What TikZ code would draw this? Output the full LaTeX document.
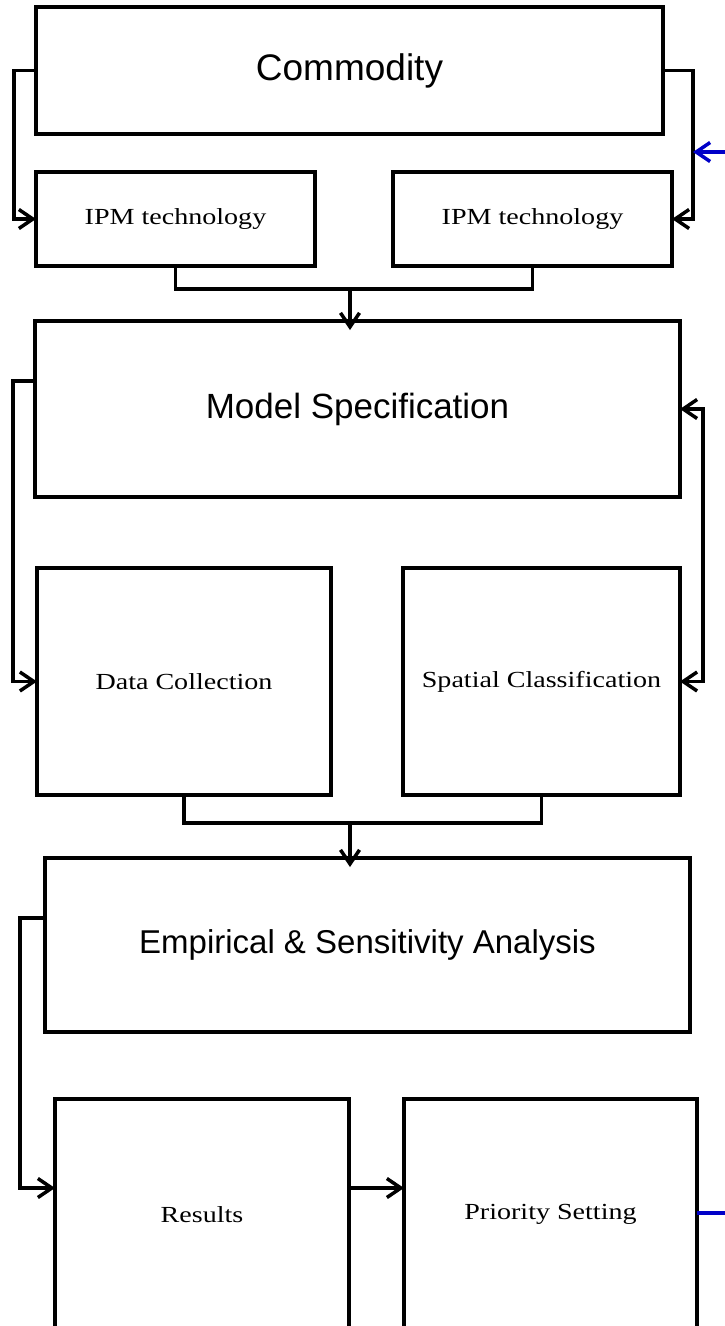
\documentclass[tikz,border=0pt]{standalone}
\usepackage{fontspec}
\setmainfont{Liberation Serif}
\setsansfont{Liberation Sans}
\newfontfamily\widerm{Liberation Serif}[FakeStretch=1.22]
\usetikzlibrary{arrows.meta}
\definecolor{linkblue}{RGB}{0,0,200}
\tikzset{
  box/.style={draw, line width=4pt, rectangle, inner sep=0pt, outer sep=0pt},
  bigtext/.style={font=\sffamily\fontsize{35}{40}\selectfont},
  smalltext/.style={font=\widerm\fontsize{23}{27}\selectfont},
  conn/.style={line width=3.5pt, line join=miter},
  arr/.style={conn, -{Straight Barb[length=14pt,width=19pt]}},
  darr/.style={conn, {Straight Barb[length=14pt,width=19pt]}-{Straight Barb[length=14pt,width=19pt]}},
  bluearr/.style={line width=3.5pt, draw=linkblue, -{Straight Barb[length=14pt,width=19pt]}}
}
\begin{document}
\begin{tikzpicture}[x=1pt, y=-1pt]
\useasboundingbox (0,0) rectangle (725,1326);
\begin{scope}
\clip (0,0) rectangle (725,1326);

% boxes
\node[box, bigtext, font=\sffamily\fontsize{37}{42}\selectfont, minimum width=627pt, minimum height=127pt] (com) at (349.5,70.5) {Commodity};
\node[box, smalltext, minimum width=279pt, minimum height=94pt] (ipmL) at (175.5,219) {IPM technology};
\node[box, smalltext, minimum width=279pt, minimum height=94pt] (ipmR) at (532.5,219) {IPM technology};
\node[box, bigtext, minimum width=645pt, minimum height=176pt] (model) at (357.5,409) {Model Specification};
\node[box, smalltext, minimum width=294pt, minimum height=227pt] (data) at (184,681.5) {Data Collection};
\node[box, smalltext, minimum width=277pt, minimum height=227pt] (spat) at (541.5,681.5) {Spatial Classification};
\node[box, bigtext, font=\sffamily\fontsize{33}{38}\selectfont, minimum width=645pt, minimum height=174pt] (emp) at (367.5,945) {Empirical \& Sensitivity Analysis};
\node[box, smalltext, minimum width=294pt, minimum height=231pt] (res) at (202,1214.5) {Results};
\node[box, smalltext, minimum width=293pt, minimum height=231pt] (prio) at (550.5,1214.5) {Priority Setting};

% junction and free-end points
\coordinate (rin) at (693,152);
\coordinate (feedin) at (726,152);
\coordinate (feedout) at (726,1213);
\coordinate (j1) at (350,289);
\coordinate (j2) at (350,823);

% commodity to the two IPM technologies
\draw[arr] (com.west) -- ++(-22,0) |- (ipmL.west);
\draw[arr] (com.east) -- ++(30,0) |- (ipmR.east);
\draw[bluearr] (feedin) -- (rin);

% IPM technologies into model specification
\draw[conn] (ipmL.south) |- (j1) -| (ipmR.south);
\draw[arr, shorten >=-9pt] (j1) -- (j1 |- model.north);

% model specification to data collection and spatial classification
\draw[arr] (model.west |- 0,381) -- (13,381) |- (data.west);
\draw[darr] (model.east) -- ++(23,0) |- (spat.east);

% data and spatial classification into the analysis
\draw[conn] (data.south) |- (j2) -| (spat.south);
\draw[arr, shorten >=-9pt] (j2) -- (j2 |- emp.north);

% analysis to results to priority setting
\draw[arr] (emp.west |- 0,918) -- (20,918) |- (res.west |- 0,1188);
\draw[arr] (res.east |- 0,1188) -- (prio.west |- 0,1188);
\draw[line width=3.5pt, draw=linkblue] (prio.east |- feedout) -- (feedout);
\end{scope}
\end{tikzpicture}
\end{document}
